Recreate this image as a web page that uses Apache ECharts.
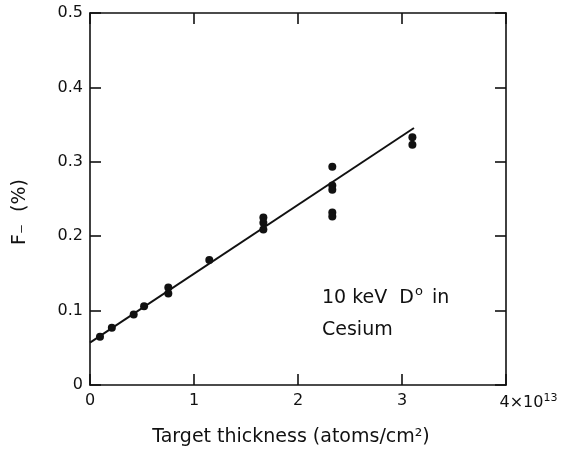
<!DOCTYPE html>
<html>
<head>
<meta charset="utf-8">
<script src="https://cdn.jsdelivr.net/npm/echarts@6/dist/echarts.min.js"></script>
<style>html,body{margin:0;padding:0;background:#fff;}#c{width:563px;height:449px;}</style>
</head>
<body>
<div id="c"></div>
<script>
const xVals = [0.096, 0.21, 0.42, 0.52, 0.753, 0.753, 1.147, 1.667, 1.667, 1.667, 2.33, 2.33, 2.33, 2.33, 2.33, 3.10, 3.10];
const yVals = [0.065, 0.077, 0.0946, 0.106, 0.131, 0.123, 0.168, 0.225, 0.218, 0.209, 0.2935, 0.268, 0.2625, 0.232, 0.2266, 0.333, 0.323];
const fitX = [0, 3.115];
const fitY = [0.057, 0.3455];
const xTickLabels = ['0', '1', '2', '3', '{pad| }{n|4×10}{s|13}'];
const yTickLabels = ['0', '0.1', '0.2', '0.3', '0.4', '0.5'];

const FONT = 'DejaVu Sans';
const INK = '#111';
const chart = echarts.init(document.getElementById('c'), null, {renderer: 'canvas'});
const axisLine = () => ({show: true, onZero: false, lineStyle: {color: INK, width: 1.6}});
const axisTick = () => ({show: true, inside: true, length: 11, lineStyle: {color: INK, width: 1.6}});
chart.setOption({
  animation: false,
  backgroundColor: '#fff',
  grid: {left: 90, top: 13, right: 57, bottom: 64},
  xAxis: [{
    type: 'value', min: 0, max: 4, interval: 1, position: 'bottom',
    axisLine: axisLine(), axisTick: axisTick(), splitLine: {show: false},
    axisLabel: {color: INK, fontFamily: FONT, fontSize: 16, margin: 8,
      formatter: v => xTickLabels[Math.round(v)],
      rich: {
        pad: {width: 45, fontSize: 16},
        n: {fontFamily: FONT, fontSize: 16, color: INK},
        s: {fontFamily: FONT, fontSize: 11, color: INK, padding: [0, 0, 9, 0]}
      }}
  }, {
    type: 'value', min: 0, max: 4, interval: 1, position: 'top',
    axisLine: axisLine(), axisTick: axisTick(), splitLine: {show: false}, axisLabel: {show: false}
  }],
  yAxis: [{
    type: 'value', min: 0, max: 0.5, interval: 0.1, position: 'left',
    axisLine: axisLine(), axisTick: axisTick(), splitLine: {show: false},
    axisLabel: {color: INK, fontFamily: FONT, fontSize: 16, margin: 7,
      formatter: v => yTickLabels[Math.round(v * 10)]}
  }, {
    type: 'value', min: 0, max: 0.5, interval: 0.1, position: 'right',
    axisLine: axisLine(), axisTick: axisTick(), splitLine: {show: false}, axisLabel: {show: false}
  }],
  series: [{
    type: 'line', data: fitX.map((x, i) => [x, fitY[i]]),
    showSymbol: false, lineStyle: {color: INK, width: 1.9}, z: 2
  }, {
    type: 'scatter', data: xVals.map((x, i) => [x, yVals[i]]),
    symbol: 'circle', symbolSize: 8, itemStyle: {color: INK, opacity: 1}, z: 3
  }],
  graphic: [
    {type: 'text', x: 20, y: 212, rotation: Math.PI / 2,
      style: {text: 'F₋  (%)', font: '19px "DejaVu Sans"', fill: INK, align: 'center', verticalAlign: 'middle'}},
    {type: 'text', x: 291, y: 437,
      style: {text: 'Target thickness (atoms/cm²)', font: '19px "DejaVu Sans"', fill: INK, align: 'center', verticalAlign: 'middle'}},
    {type: 'text', x: 322, y: 298,
      style: {text: '{a|10 keV  D}{s|o}{a| in}', fill: INK, align: 'left', verticalAlign: 'middle',
        rich: {
          a: {fontFamily: FONT, fontSize: 19, fill: INK, color: INK},
          s: {fontFamily: FONT, fontSize: 13, fill: INK, color: INK, padding: [0, 3, 12, 1]}
        }}},
    {type: 'text', x: 322, y: 330,
      style: {text: 'Cesium', font: '19px "DejaVu Sans"', fill: INK, align: 'left', verticalAlign: 'middle'}}
  ]
});
</script>
</body>
</html>
